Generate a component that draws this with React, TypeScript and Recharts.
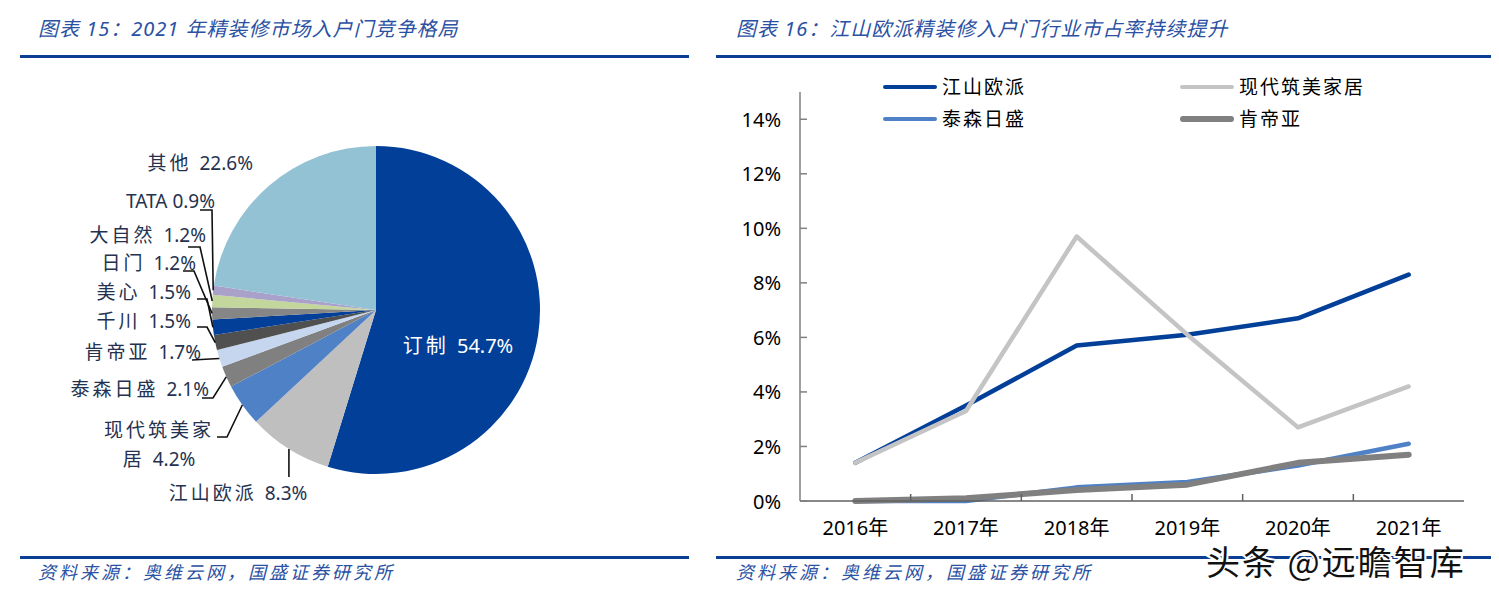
import React from 'react';
import { PieChart, Pie, Cell, LineChart, Line, XAxis, YAxis } from 'recharts';

// ---------- Pie data (图表15) ----------
const pieNames = ['订制', '江山欧派', '现代筑美家居', '泰森日盛', '肯帝亚', '千川', '美心', '日门', '大自然', 'TATA', '其他'];
const pieValues = [54.7, 8.3, 4.2, 2.1, 1.7, 1.5, 1.5, 1.2, 1.2, 0.9, 22.6];
const pieColors = ['#023F98', '#BFBFBF', '#4F81C6', '#808080', '#C6D6EE', '#505050', '#023F98', '#868686', '#C3D69B', '#A9A1CA', '#93C2D4'];

// ---------- Line data (图表16) ----------
const years = ['2016年', '2017年', '2018年', '2019年', '2020年', '2021年'];
const seriesNames = ['江山欧派', '现代筑美家居', '泰森日盛', '肯帝亚'];
const jiangshan = [1.4, 3.5, 5.7, 6.1, 6.7, 8.3];
const xiandai = [1.4, 3.3, 9.7, 6.1, 2.7, 4.2];
const taisen = [0.0, 0.0, 0.5, 0.7, 1.3, 2.1];
const kendiya = [0.0, 0.1, 0.4, 0.6, 1.4, 1.7];
const seriesColors = ['#023F98', '#C4C4C4', '#4F81C6', '#808080'];
const seriesWidths = [4.5, 4.5, 4.5, 6];
const yTicks = [0, 2, 4, 6, 8, 10, 12, 14];

const pieData = pieNames.map((name, i) => ({ name, value: pieValues[i] }));
const lineData = years.map((year, i) => ({
  year,
  s0: jiangshan[i],
  s1: xiandai[i],
  s2: taisen[i],
  s3: kendiya[i],
}));

// label placement for pie (text position in chart px; leader elbow)
type LabelLayout = {
  tx: number; ty: number; anchor: 'start' | 'middle' | 'end';
  ly?: number; lx0?: number; ex?: number; vline?: number; split?: number; inside?: boolean;
};
const pieLabelLayout: LabelLayout[] = [
  { tx: 458, ty: 345, anchor: 'middle', inside: true },
  { tx: 238, ty: 493, anchor: 'middle', vline: 477 },
  { tx: 159, ty: 430, anchor: 'middle', split: 5, ly: 437, lx0: 217, ex: 227 },
  { tx: 209, ty: 389, anchor: 'end', ly: 398, lx0: 202, ex: 213 },
  { tx: 201, ty: 352, anchor: 'end', ly: 360, lx0: 192 },
  { tx: 191, ty: 321, anchor: 'end', ly: 327, lx0: 197, ex: 207 },
  { tx: 191, ty: 292, anchor: 'end', ly: 299, lx0: 197, ex: 207 },
  { tx: 196, ty: 263, anchor: 'end', ly: 271, lx0: 183, ex: 194 },
  { tx: 206, ty: 235, anchor: 'end', ly: 247, lx0: 188, ex: 200 },
  { tx: 215, ty: 201, anchor: 'end', ly: 210, lx0: 200, ex: 212 },
  { tx: 253, ty: 163, anchor: 'end' },
];

const RAD = Math.PI / 180;
const CJK = "'Noto Sans', 'Noto Sans CJK SC', sans-serif";
const labelColor = '#24324F';

const renderPieLabel = (props: any) => {
  const { cx, cy, midAngle, outerRadius, index } = props;
  const lay = pieLabelLayout[index];
  if (!lay) return null;
  const name = pieNames[index];
  const val = `${pieValues[index].toFixed(1)}%`;
  const px = cx + outerRadius * Math.cos(-midAngle * RAD);
  const py = cy + outerRadius * Math.sin(-midAngle * RAD);
  let pts: string | null = null;
  if (lay.vline !== undefined) {
    pts = `${px},${py} ${px},${lay.vline}`;
  } else if (lay.ly !== undefined && lay.lx0 !== undefined) {
    pts = lay.ex !== undefined
      ? `${lay.lx0},${lay.ly} ${lay.ex},${lay.ly} ${px},${py}`
      : `${lay.lx0},${lay.ly} ${px},${py}`;
  }
  const fill = lay.inside ? '#FFFFFF' : labelColor;
  const isCJK = /[\u4e00-\u9fff]/.test(name);
  const ls = isCJK ? 3 : 0;
  const fs = lay.inside ? 20 : 19;
  let textEl;
  if (lay.split) {
    const l1 = name.slice(0, lay.split);
    const l2 = name.slice(lay.split);
    textEl = (
      <g>
        <text x={lay.tx} y={lay.ty} textAnchor={lay.anchor} dominantBaseline="central" fontSize={fs} fill={fill} fontFamily={CJK}>
          <tspan letterSpacing={ls}>{l1}</tspan>
        </text>
        <text x={lay.tx} y={lay.ty + 29} textAnchor={lay.anchor} dominantBaseline="central" fontSize={fs} fill={fill} fontFamily={CJK}>
          <tspan letterSpacing={ls}>{l2} </tspan>
          <tspan>{val}</tspan>
        </text>
      </g>
    );
  } else {
    textEl = (
      <text x={lay.tx} y={lay.ty} textAnchor={lay.anchor} dominantBaseline="central" fontSize={fs} fill={fill} fontFamily={CJK}>
        <tspan letterSpacing={ls}>{name} </tspan>
        <tspan>{val}</tspan>
      </text>
    );
  }
  return (
    <g key={`lab-${index}`}>
      {pts && <polyline points={pts} fill="none" stroke="#111" strokeWidth={1.6} />}
      {textEl}
    </g>
  );
};

const YTick = (props: any) => {
  const { x, y, payload } = props;
  return (
    <g>
      <line x1={x} x2={x + 7} y1={y} y2={y} stroke="#808080" strokeWidth={1.5} />
      <text x={x - 19} y={y} textAnchor="end" dominantBaseline="central" fontSize={20} fill="#000" fontFamily={CJK}>
        {`${payload.value}%`}
      </text>
    </g>
  );
};

const XTick = (props: any) => {
  const { x, y, payload, index, width } = props;
  const half = width / (2 * years.length);
  return (
    <g>
      {index < years.length - 1 && (
        <line x1={x + half} x2={x + half} y1={y} y2={y - 7} stroke="#606060" strokeWidth={1.5} />
      )}
      <text x={x} y={y + 26} textAnchor="middle" dominantBaseline="central" fontSize={20} fill="#000" fontFamily={CJK}>
        {payload.value}
      </text>
    </g>
  );
};

const titleColor = '#2A51A3';
const ruleColor = '#0B3F93';

export default function App() {
  return (
    <div style={{ position: 'absolute', left: 0, top: 0, width: 1499, height: 594, background: '#fff', overflow: 'hidden', fontFamily: CJK }}>
      {/* frame: titles, rules, sources */}
      <svg width={1499} height={594} style={{ position: 'absolute', left: 0, top: 0 }}>
        <text x={38} y={28} dominantBaseline="central" fontSize={20} fontStyle="italic" fill={titleColor} letterSpacing={1} fontFamily={CJK}>
          图表 15：2021 年精装修市场入户门竞争格局
        </text>
        <text x={736} y={28} dominantBaseline="central" fontSize={20} fontStyle="italic" fill={titleColor} letterSpacing={1} fontFamily={CJK}>
          图表 16：江山欧派精装修入户门行业市占率持续提升
        </text>
        <rect x={20} y={55} width={669} height={3} fill={ruleColor} />
        <rect x={716} y={55} width={775} height={3} fill={ruleColor} />
        <rect x={20} y={556} width={669} height={3} fill={ruleColor} />
        <rect x={716} y={556} width={775} height={3} fill={ruleColor} />
        <text x={38} y={572} dominantBaseline="central" fontSize={18} fontStyle="italic" fill={titleColor} letterSpacing={3} fontFamily={CJK}>
          资料来源：奥维云网，国盛证券研究所
        </text>
        <text x={736} y={572} dominantBaseline="central" fontSize={18} fontStyle="italic" fill={titleColor} letterSpacing={3} fontFamily={CJK}>
          资料来源：奥维云网，国盛证券研究所
        </text>
      </svg>

      {/* pie chart */}
      <div style={{ position: 'absolute', left: 0, top: 0 }}>
        <PieChart width={700} height={560} margin={{ top: 0, right: 0, bottom: 0, left: 0 }}>
          <Pie
            data={pieData}
            dataKey="value"
            nameKey="name"
            cx={376}
            cy={310}
            outerRadius={164}
            startAngle={90}
            endAngle={-270}
            stroke="none"
            isAnimationActive={false}
            labelLine={false}
            label={renderPieLabel}
          >
            {pieData.map((d, i) => (
              <Cell key={d.name} fill={pieColors[i]} />
            ))}
          </Pie>
        </PieChart>
      </div>

      {/* line chart */}
      <div style={{ position: 'absolute', left: 720, top: 0 }}>
        <LineChart width={780} height={560} data={lineData} margin={{ top: 92, right: 36, bottom: 19, left: 0 }}>
          <XAxis
            dataKey="year"
            scale="band"
            tickSize={0}
            tickMargin={0}
            tickLine={false}
            axisLine={{ stroke: '#606060', strokeWidth: 1.5 }}
            tick={<XTick />}
            height={40}
            interval={0}
          />
          <YAxis
            domain={[0, 15]}
            ticks={yTicks}
            tickSize={0}
            tickMargin={0}
            tickLine={false}
            axisLine={{ stroke: '#808080', strokeWidth: 1.5 }}
            tick={<YTick />}
            width={80}
            interval={0}
          />
          {seriesNames.map((n, i) => (
            <Line
              key={n}
              name={n}
              dataKey={`s${i}`}
              type="linear"
              stroke={seriesColors[i]}
              strokeWidth={seriesWidths[i]}
              strokeLinecap="round"
              strokeLinejoin="round"
              dot={false}
              activeDot={false}
              isAnimationActive={false}
            />
          ))}
        </LineChart>
      </div>

      {/* legend */}
      <div style={{ position: 'absolute', left: 883, top: 71, display: 'grid', gridTemplateColumns: '297px 297px', gridAutoRows: '32px' }}>
        {seriesNames.map((n, i) => (
          <div key={n} style={{ display: 'flex', alignItems: 'center', height: 32 }}>
            <div style={{ width: 54, height: seriesWidths[i], borderRadius: 3, background: seriesColors[i], marginRight: 5 }} />
            <span style={{ fontSize: 19, letterSpacing: 2, color: '#000', fontFamily: CJK, lineHeight: '32px' }}>{n}</span>
          </div>
        ))}
      </div>

      {/* watermark */}
      <svg width={1499} height={594} style={{ position: 'absolute', left: 0, top: 0, pointerEvents: 'none' }}>
        <text x={1206} y={560} dominantBaseline="central" fontSize={34} letterSpacing={2} fill="#111" stroke="#fff" strokeWidth={4} paintOrder="stroke" fontFamily="'Noto Sans CJK SC', sans-serif">
          头条 @远瞻智库
        </text>
      </svg>
    </div>
  );
}
